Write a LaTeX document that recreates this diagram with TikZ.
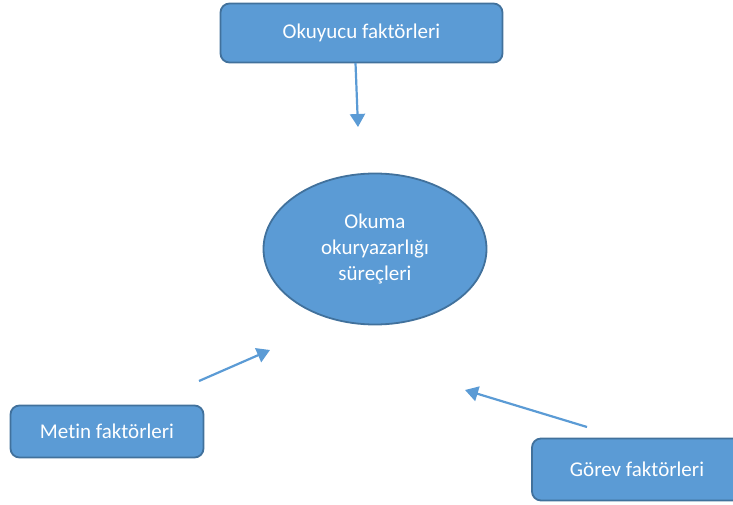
\documentclass[tikz,border=0pt]{standalone}
\usepackage{fontspec}
\setmainfont[Ligatures=NoCommon]{Carlito}
\usetikzlibrary{shapes.geometric,arrows.meta}
\definecolor{boxfill}{HTML}{5B9BD5}
\definecolor{boxline}{HTML}{41719C}
\begin{document}
\begin{tikzpicture}[x=1pt,y=-1pt,
  fbox/.style={draw=boxline, line width=1.8pt, fill=boxfill, rounded corners=9pt,
    text=white, font=\fontsize{21}{26}\selectfont, inner sep=0pt},
  fell/.style={ellipse, draw=boxline, line width=1.8pt, fill=boxfill,
    text=white, font=\fontsize{21}{26}\selectfont, inner sep=0pt, align=center},
  arr/.style={draw=boxfill, line width=2.2pt, -{Triangle[length=13pt,width=15pt]}}]
\useasboundingbox (0,0) rectangle (733,505);
\clip (0,0) rectangle (733,505);
\node[fbox, minimum width=282pt, minimum height=59pt] (okuyucu) at (361.5,33) {Okuyucu faktörleri};
\node[fell, minimum width=223pt, minimum height=151pt] (okuma) at (375,249) {Okuma\\okuryazarlığı\\süreçleri};
\node[fbox, minimum width=193pt, minimum height=52pt] (metin) at (107,431.5) {Metin faktörleri};
\node[fbox, minimum width=210pt, minimum height=62pt] (gorev) at (637,469.5) {Görev faktörleri};
\coordinate (a1s) at (355.5,63);
\coordinate (a1e) at (358,127);
\coordinate (a2s) at (199,381);
\coordinate (a2e) at (270,350);
\coordinate (a3s) at (587,427);
\coordinate (a3e) at (465,390);
\draw[arr] (a1s) -- (a1e);
\draw[arr] (a2s) -- (a2e);
\draw[arr] (a3s) -- (a3e);
\end{tikzpicture}
\end{document}
